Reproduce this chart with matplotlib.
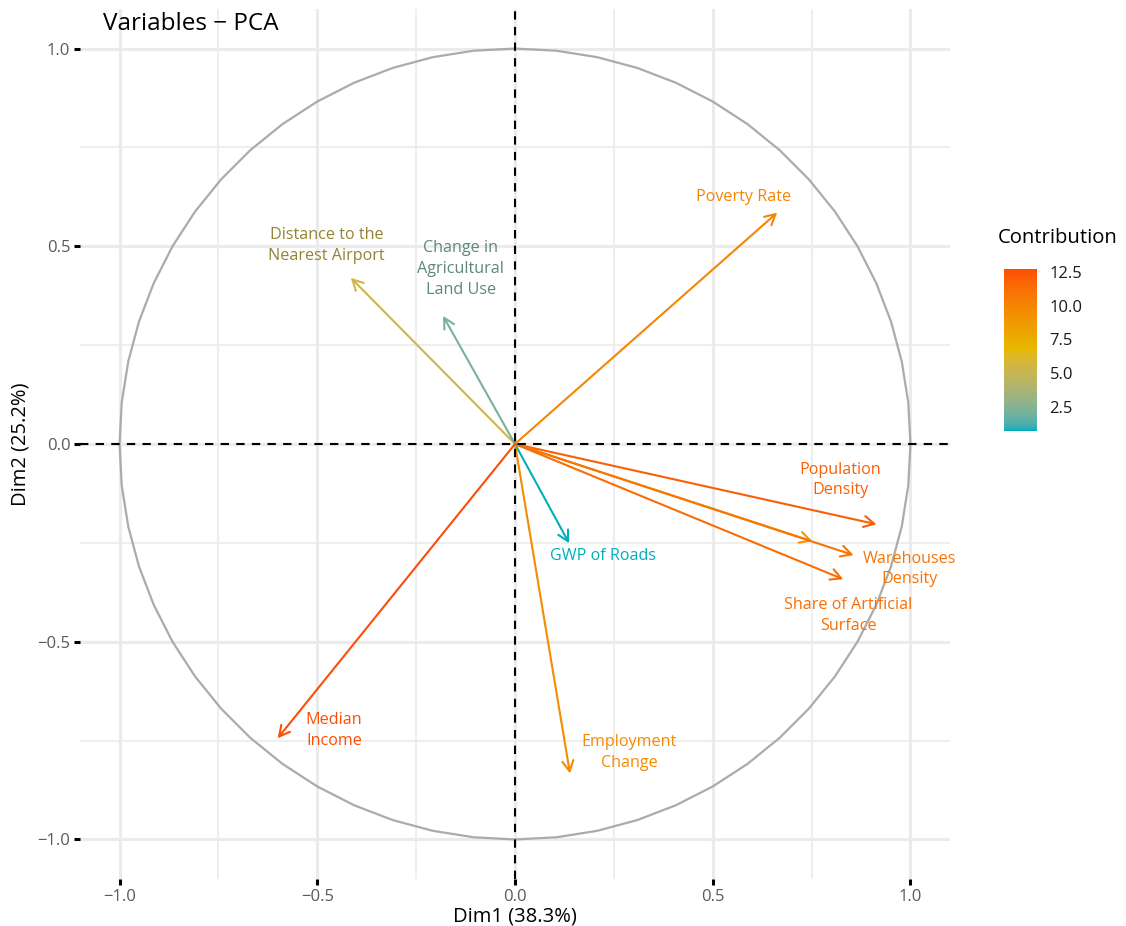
import numpy as np
import matplotlib
matplotlib.use("Agg")
import matplotlib.pyplot as plt
from matplotlib.colors import ListedColormap, Normalize, to_rgb
import matplotlib as mpl

plt.rcParams['font.family'] = ['Open Sans', 'DejaVu Sans']

# ---- data ----
var_labels = ["Poverty Rate", "Distance to the\nNearest Airport", "Change in\nAgricultural\nLand Use",
              "Population\nDensity", "", "Warehouses\nDensity", "Share of Artificial\nSurface",
              "GWP of Roads", "Employment\nChange", "Median\nIncome"]
dim1 = [0.663, -0.415, -0.182, 0.914, 0.752, 0.856, 0.830, 0.137, 0.139, -0.600]
dim2 = [0.585, 0.420, 0.324, -0.203, -0.246, -0.281, -0.342, -0.251, -0.833, -0.744]
contrib = [10.0, 5.4, 2.2, 12.0, 8.8, 10.9, 11.3, 0.72, 9.6, 12.72]
x_ticks = [-1.0, -0.5, 0.0, 0.5, 1.0]
y_ticks = [-1.0, -0.5, 0.0, 0.5, 1.0]
cbar_ticks = [2.5, 5.0, 7.5, 10.0, 12.5]
gradient_colors = ["#00AFBB", "#E7B800", "#FC4E07"]
xlabel = "Dim1 (38.3%)"
ylabel = "Dim2 (25.2%)"
title = "Variables \u2212 PCA"

# label placement and text shading (layout / style)
label_xy = [(0.577, 0.625), (-0.476, 0.501), (-0.137, 0.443), (0.823, -0.091), (0, 0),
            (0.997, -0.316), (0.843, -0.433), (0.223, -0.284), (0.289, -0.78), (-0.458, -0.724)]
label_shade = [1.0, 0.72, 0.77, 1.0, 1.0, 1.0, 1.0, 1.0, 1.0, 1.0]


# ---- Lab interpolation (like scales::gradient_n_pal) ----
def srgb_to_lab(rgb):
    rgb = np.asarray(rgb, float)
    lin = np.where(rgb <= 0.04045, rgb / 12.92, ((rgb + 0.055) / 1.055) ** 2.4)
    M = np.array([[0.4124564, 0.3575761, 0.1804375],
                  [0.2126729, 0.7151522, 0.0721750],
                  [0.0193339, 0.1191920, 0.9503041]])
    xyz = M @ lin
    wp = np.array([0.95047, 1.0, 1.08883])
    f = xyz / wp
    eps = 216 / 24389
    k = 24389 / 27
    ft = np.where(f > eps, np.cbrt(f), (k * f + 16) / 116)
    L = 116 * ft[1] - 16
    a = 500 * (ft[0] - ft[1])
    b = 200 * (ft[1] - ft[2])
    return np.array([L, a, b])


def lab_to_srgb(lab):
    L, a, b = lab
    fy = (L + 16) / 116
    fx = fy + a / 500
    fz = fy - b / 200
    eps = 216 / 24389
    k = 24389 / 27
    def finv(t):
        return t ** 3 if t ** 3 > eps else (116 * t - 16) / k
    wp = np.array([0.95047, 1.0, 1.08883])
    xyz = np.array([finv(fx), (fy ** 3 if L > k * eps else L / k), finv(fz)]) * wp
    Minv = np.array([[3.2404542, -1.5371385, -0.4985314],
                     [-0.9692660, 1.8760108, 0.0415560],
                     [0.0556434, -0.2040259, 1.0572252]])
    lin = Minv @ xyz
    lin = np.clip(lin, 0, 1)
    rgb = np.where(lin <= 0.0031308, lin * 12.92, 1.055 * lin ** (1 / 2.4) - 0.055)
    return np.clip(rgb, 0, 1)


labs = [srgb_to_lab(to_rgb(c)) for c in gradient_colors]
N = 256
cols = []
for i in range(N):
    t = i / (N - 1) * (len(labs) - 1)
    j = min(int(t), len(labs) - 2)
    f = t - j
    cols.append(lab_to_srgb(labs[j] * (1 - f) + labs[j + 1] * f))
cmap = ListedColormap(cols)
norm = Normalize(vmin=min(contrib), vmax=max(contrib))

W, H = 1126, 926
fig = plt.figure(figsize=(W / 100, H / 100), dpi=100)
ax = fig.add_axes([80 / W, (H - 879) / H, 870 / W, 870 / H])
ax.set_xlim(-1.1, 1.1)
ax.set_ylim(-1.1, 1.1)
for s in ax.spines.values():
    s.set_visible(False)

# grid
for v in [-1.0, -0.5, 0.0, 0.5, 1.0]:
    ax.axhline(v, color="#EBEBEB", lw=2.2, zorder=0)
    ax.axvline(v, color="#EBEBEB", lw=2.2, zorder=0)
for v in [-0.75, -0.25, 0.25, 0.75]:
    ax.axhline(v, color="#EBEBEB", lw=1.2, zorder=0)
    ax.axvline(v, color="#EBEBEB", lw=1.2, zorder=0)

# circle
t = np.linspace(0, 2 * np.pi, 61)
ax.plot(np.cos(t), np.sin(t), color="#ABABAB", lw=1.6, zorder=1)

# arrows and labels
for lab, x, y, c, (lx, ly), sh in zip(var_labels, dim1, dim2, contrib, label_xy, label_shade):
    col = cmap(norm(c))
    ax.annotate("", xy=(x, y), xytext=(0, 0),
                arrowprops=dict(arrowstyle="->,head_length=0.75,head_width=0.4",
                                color=col, lw=1.5, shrinkA=0, shrinkB=0,
                                mutation_scale=10),
                zorder=3)
    if lab:
        tcol = tuple(np.array(col[:3]) * sh)
        ax.text(lx, ly, lab, color=tcol, fontsize=11.6, ha="center", va="center",
                linespacing=1.4, zorder=4)

# dashed axes lines
ax.axhline(0, color="black", lw=1.5, ls=(0, (4, 3.5)), zorder=5)
ax.axvline(0, color="black", lw=1.5, ls=(0, (4, 3.5)), zorder=5)

ax.set_xticks(x_ticks)
ax.set_yticks(y_ticks)
ax.set_xticklabels([f"{v:.1f}".replace("-", "\u2212") for v in x_ticks])
ax.set_yticklabels([f"{v:.1f}".replace("-", "\u2212") for v in y_ticks])
ax.tick_params(axis="both", length=4, width=2.2, color="black", labelsize=12,
               labelcolor="#5a5a5a", pad=3)
ax.set_xlabel(xlabel, fontsize=14.5, color="black", labelpad=1)
ax.set_ylabel(ylabel, fontsize=14.5, color="black", labelpad=5)

fig.text(103 / W, 1 - 24 / H, title, fontsize=17.5, ha="left", va="center")

# colorbar
cax = fig.add_axes([1004 / W, (H - 431) / H, 33 / W, 162 / H])
cb = mpl.colorbar.ColorbarBase(cax, cmap=cmap, norm=norm, orientation="vertical")
cb.outline.set_visible(False)
cb.set_ticks(cbar_ticks)
cb.set_ticklabels([f"{v:.1f}" for v in cbar_ticks])
cax.tick_params(length=0, labelsize=12, labelcolor="#1a1a1a", pad=9)
fig.text(998 / W, 1 - 238 / H, "Contribution", fontsize=14.6, ha="left", va="center")

fig.savefig("out.png", dpi=100)
